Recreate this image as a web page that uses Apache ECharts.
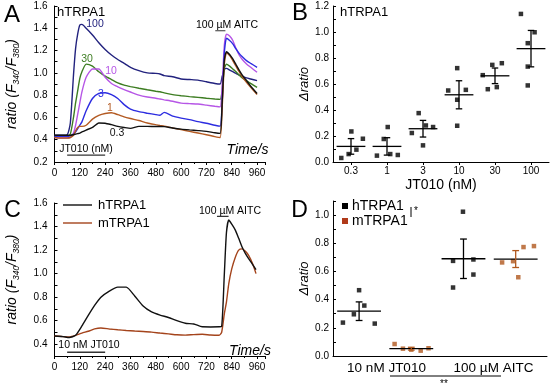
<!DOCTYPE html>
<html><head><meta charset="utf-8">
<script src="https://cdn.jsdelivr.net/npm/echarts@6/dist/echarts.min.js"></script>
<style>html,body{margin:0;padding:0;background:#fff}#c{width:550px;height:388px}</style>
</head><body><div id="c"></div>
<script>
const FONT = "'Liberation Sans', Arial, sans-serif";

// ---------- Panel A: hTRPA1 traces, JT010 concentrations ----------
const timeA = [0,30,60,75,90,100,110,120,130,150,180,210,240,270,300,330,360,400,440,480,500,520,560,600,640,680,720,760,785,795,805,815,830,845,860,875,890,910,930,960];
const a100 = [0.44,0.44,0.445,0.55,0.98,1.22,1.35,1.43,1.435,1.40,1.34,1.27,1.21,1.16,1.12,1.085,1.05,1.02,1.0,0.995,0.99,0.975,0.965,0.945,0.94,0.935,0.92,0.905,0.90,0.97,1.03,1.04,1.025,1.01,0.995,0.98,0.97,0.955,0.945,0.93];
const a30 = [0.43,0.43,0.435,0.45,0.6,0.73,0.84,0.95,1.01,1.078,1.06,1.01,0.97,0.94,0.91,0.89,0.877,0.862,0.848,0.835,0.83,0.82,0.805,0.795,0.787,0.78,0.772,0.765,0.762,0.85,1.04,1.078,1.06,1.035,1.01,0.98,0.955,0.93,0.905,0.87];
const a10 = [0.42,0.415,0.415,0.42,0.46,0.53,0.63,0.73,0.83,0.96,1.035,1.035,0.96,0.905,0.875,0.85,0.828,0.80,0.783,0.772,0.765,0.758,0.745,0.728,0.724,0.72,0.71,0.70,0.695,0.9,1.25,1.348,1.33,1.29,1.22,1.16,1.12,1.08,1.05,1.005];
const a3 = [0.43,0.43,0.43,0.435,0.45,0.47,0.5,0.53,0.56,0.66,0.77,0.815,0.822,0.805,0.77,0.715,0.675,0.652,0.638,0.625,0.62,0.645,0.612,0.594,0.58,0.562,0.548,0.53,0.522,0.75,1.18,1.31,1.29,1.26,1.215,1.175,1.145,1.11,1.085,1.05];
const a1 = [0.42,0.415,0.415,0.42,0.44,0.48,0.51,0.52,0.52,0.53,0.585,0.618,0.635,0.642,0.625,0.605,0.59,0.572,0.55,0.535,0.528,0.522,0.505,0.49,0.475,0.46,0.445,0.428,0.42,0.7,1.08,1.18,1.155,1.11,1.06,1.01,0.965,0.915,0.87,0.805];
const a03 = [0.44,0.44,0.44,0.44,0.445,0.45,0.455,0.46,0.47,0.487,0.51,0.55,0.548,0.535,0.52,0.51,0.502,0.52,0.52,0.518,0.518,0.517,0.505,0.495,0.488,0.482,0.475,0.462,0.457,0.75,1.12,1.19,1.165,1.125,1.075,1.025,0.98,0.93,0.88,0.815];
const traceNamesA = ['100','30','10','3','1','0.3'];
const traceColorsA = ['#22227e','#3d7d22','#b656e6','#2c2ce0','#b35a22','#111111'];

// ---------- Panel B: Δratio vs JT010 ----------
const catsB = ['0.3','1','3','10','30','100'];
const bVals = [[0.031,0.061,0.095,0.235,0.179],[0.049,0.177,0.269,0.061,0.054],[0.223,0.376,0.281,0.269,0.128],[0.55,0.555,0.722,0.479,0.279],[0.668,0.56,0.747,0.576,0.76],[1.139,0.998,0.914,0.734,0.589]];
const bJit = [[-0.27,-0.065,0.15,0.01,0.33],[-0.28,-0.09,0.02,0.09,0.30],[-0.31,-0.12,0.08,0.28,0.0],[-0.30,0.19,-0.05,-0.05,-0.05],[-0.34,-0.2,-0.075,0.05,0.19],[-0.28,0.1,-0.09,-0.09,-0.09]];
const bMean = [0.12,0.12,0.256,0.517,0.663,0.872];
const bSem = [0.06,0.067,0.064,0.108,0.06,0.14];

// ---------- Panel C: hTRPA1 vs mTRPA1 traces ----------
const timeC = [0,40,70,100,130,160,190,220,260,300,340,380,420,460,500,540,580,620,660,700,740,780,792,805,815,826,840,857,873,889,905,920,940,955];
const cH = [0.47,0.465,0.457,0.476,0.555,0.645,0.73,0.80,0.852,0.885,0.885,0.81,0.725,0.675,0.648,0.627,0.60,0.578,0.572,0.548,0.547,0.548,0.55,1.0,1.35,1.455,1.42,1.37,1.30,1.226,1.17,1.127,1.075,1.034];
const cM = [0.47,0.465,0.462,0.475,0.495,0.51,0.53,0.538,0.53,0.523,0.517,0.512,0.508,0.503,0.495,0.488,0.48,0.477,0.482,0.485,0.478,0.476,0.5,0.66,0.76,0.915,1.04,1.14,1.2,1.21,1.19,1.155,1.08,1.0];

// ---------- Panel D: Δratio, hTRPA1 vs mTRPA1 ----------
const catsD = ['10 nM JT010','100 \u00B5M AITC'];
const dPosH = [0.5, 2.5];
const dPosM = [1.5, 3.5];
const dValsH = [[0.237,0.296,0.467,0.358,0.23],[0.486,0.675,1.024,0.685,0.578]];
const dJitH = [[-0.31,-0.1,0,0.1,0.3],[-0.2,-0.2,-0.01,0.19,0.19]];
const dValsM = [[0.085,0.052,0.045,0.038,0.055],[0.664,0.673,0.559,0.773,0.78]];
const dJitM = [[-0.32,-0.16,0,0.18,0.33],[-0.26,-0.05,0.05,0.15,0.35]];
const dMeanH = [0.318,0.69], dSemH = [0.066,0.14];
const dMeanM = [0.052,0.688], dSemM = [0.01,0.06];

const BLACK = '#000';
const MCOL = '#b0581e';
const CBROWN = '#a4441c';

function meanErr(halfW, capW, meanColor, errColor){
  return function(params, api){
    const x = api.value(0), m = api.value(1), s = api.value(2);
    const l = api.coord([x-halfW, m]), r = api.coord([x+halfW, m]);
    const t = api.coord([x, m+s]), b = api.coord([x, m-s]);
    const tl = api.coord([x-capW, m+s]), tr = api.coord([x+capW, m+s]);
    const bl = api.coord([x-capW, m-s]), br = api.coord([x+capW, m-s]);
    const ln = (p,q,c)=>({type:'line', shape:{x1:p[0],y1:p[1],x2:q[0],y2:q[1]}, style:{stroke:c, lineWidth:1.3}});
    return {type:'group', children:[ln(l,r,meanColor), ln(t,b,errColor), ln(tl,tr,errColor), ln(bl,br,errColor)]};
  };
}

const axLine = {show:true, lineStyle:{color:BLACK, width:1}};
const tickLbl = {color:BLACK, fontSize:10, fontFamily:FONT};

function yAx(gi, min, max, interval, extra){
  return Object.assign({
    type:'value', gridIndex:gi, min, max, interval,
    axisLine:axLine, splitLine:{show:false},
    axisTick:{show:true, inside:true, length:3, lineStyle:{color:BLACK}},
    minorTick:{show:true, splitNumber:2, length:3, lineStyle:{color:BLACK}},
    axisLabel:Object.assign({margin:6, showMaxLabel:true}, tickLbl)
  }, extra||{});
}

const ratioName = '{i|ratio (F}{s|340}{i|/F}{s|380}{i|)}';
const ratioStyle = {rich:{
  i:{fontStyle:'italic', fontSize:14, fontFamily:FONT, color:BLACK, lineHeight:18},
  s:{fontStyle:'italic', fontSize:8.5, fontFamily:FONT, color:BLACK, verticalAlign:'bottom', lineHeight:10}
}};

const option = {
  animation:false,
  backgroundColor:'#fff',
  textStyle:{fontFamily:FONT},
  grid:[
    {left:54.5, top:6, width:211, height:156, outerBoundsMode:'none'},
    {left:333, top:6, width:216, height:156, outerBoundsMode:'none'},
    {left:54.5, top:203, width:211, height:153, outerBoundsMode:'none'},
    {left:333, top:201, width:214, height:155, outerBoundsMode:'none'}
  ],
  xAxis:[
    {type:'value', gridIndex:0, min:0, max:1000, interval:120, axisLine:axLine, splitLine:{show:false},
     axisTick:{show:true, length:3, lineStyle:{color:BLACK}}, minorTick:{show:true, splitNumber:2, length:2, lineStyle:{color:BLACK}},
     axisLabel:Object.assign({margin:6, showMaxLabel:false}, tickLbl)},
    {type:'value', gridIndex:1, min:0, max:6, interval:1, axisLine:axLine, splitLine:{show:false},
     axisTick:{show:false}, axisLabel:{show:false}},
    {type:'value', gridIndex:2, min:0, max:1000, interval:120, axisLine:axLine, splitLine:{show:false},
     axisTick:{show:true, length:3, lineStyle:{color:BLACK}}, minorTick:{show:true, splitNumber:2, length:2, lineStyle:{color:BLACK}},
     axisLabel:Object.assign({margin:6, showMaxLabel:false}, tickLbl)},
    {type:'value', gridIndex:3, min:0, max:4.1, interval:1, axisLine:axLine, splitLine:{show:false},
     axisTick:{show:false}, axisLabel:{show:false}},
    {type:'category', gridIndex:1, data:catsB, boundaryGap:true, position:'bottom',
     axisLine:{show:false}, axisTick:{show:true, alignWithLabel:true, length:3, lineStyle:{color:BLACK}},
     axisLabel:Object.assign({margin:4}, tickLbl),
     name:'JT010 (nM)', nameLocation:'middle', nameGap:16, nameTextStyle:{fontSize:14, fontFamily:FONT, color:BLACK}},
    {type:'category', gridIndex:3, data:catsD, boundaryGap:true, position:'bottom',
     axisLine:{show:false}, axisTick:{show:false},
     axisLabel:{margin:5, color:BLACK, fontSize:13.5, fontFamily:FONT}}
  ],
  yAxis:[
    yAx(0, 0.2, 1.6, 0.2, {axisLabel:Object.assign({margin:7, formatter:v=>v.toFixed(1)}, tickLbl),
      name:ratioName, nameLocation:'middle', nameRotate:90, nameGap:33, nameTextStyle:ratioStyle}),
    yAx(1, 0, 1.2, 0.2, {axisLabel:Object.assign({margin:4, formatter:v=>v.toFixed(1)}, tickLbl),
      name:'\u0394ratio', nameLocation:'middle', nameRotate:90, nameGap:19,
      nameTextStyle:{fontStyle:'italic', fontSize:13, fontFamily:FONT, color:BLACK}}),
    yAx(2, 0.3, 1.6, 0.1, {minorTick:{show:false},
      axisLabel:Object.assign({margin:7, formatter:v=>(Math.round(v*10)%2===0?v.toFixed(1):'')}, tickLbl),
      name:ratioName, nameLocation:'middle', nameRotate:90, nameGap:33, nameTextStyle:ratioStyle}),
    yAx(3, 0, 1.1, 0.2, {axisLabel:Object.assign({margin:4, showMaxLabel:false, formatter:v=>v.toFixed(1)}, tickLbl),
      name:'\u0394ratio', nameLocation:'middle', nameRotate:90, nameGap:19,
      nameTextStyle:{fontStyle:'italic', fontSize:13, fontFamily:FONT, color:BLACK}})
  ],
  series:[],
  graphic:[]
};

// Panel A traces
[a100,a30,a10,a3,a1,a03].forEach((arr,k)=>{
  option.series.push({type:'line', name:'A'+traceNamesA[k], xAxisIndex:0, yAxisIndex:0, showSymbol:false, smooth:0.2,
    data:timeA.map((t,i)=>[t,arr[i]]), lineStyle:{color:traceColorsA[k], width:1.4}, itemStyle:{color:traceColorsA[k]}, z:3+k});
});
// Application bars (A)
option.series.push({type:'line', xAxisIndex:0, yAxisIndex:0, showSymbol:false, data:[[60,0.262],[240,0.262]], lineStyle:{color:'#333', width:1.3}});
option.series.push({type:'line', xAxisIndex:0, yAxisIndex:0, showSymbol:false, data:[[762,1.378],[810,1.378]], lineStyle:{color:'#333', width:1.2}});

// Panel B
const bPts = [];
bVals.forEach((g,i)=>g.forEach((v,j)=>bPts.push([i+0.5+bJit[i][j], v])));
option.series.push({type:'scatter', xAxisIndex:1, yAxisIndex:1, symbol:'rect', symbolSize:4.5, itemStyle:{color:BLACK}, data:bPts});
option.series.push({type:'custom', xAxisIndex:1, yAxisIndex:1, renderItem:meanErr(0.4,0.09,BLACK,BLACK),
  data:bMean.map((m,i)=>[i+0.5, m, bSem[i]]), encode:{x:0,y:1}, z:5});

// Panel C traces
option.series.push({type:'line', name:'hTRPA1', xAxisIndex:2, yAxisIndex:2, showSymbol:false, smooth:0.2,
  data:timeC.map((t,i)=>[t,cH[i]]), lineStyle:{color:'#111', width:1.4}, itemStyle:{color:'#111'}, z:4});
option.series.push({type:'line', name:'mTRPA1', xAxisIndex:2, yAxisIndex:2, showSymbol:false, smooth:0.2,
  data:timeC.map((t,i)=>[t,cM[i]]), lineStyle:{color:CBROWN, width:1.4}, itemStyle:{color:CBROWN}, z:3});
option.series.push({type:'line', xAxisIndex:2, yAxisIndex:2, showSymbol:false, data:[[60,0.332],[240,0.332]], lineStyle:{color:'#333', width:1.3}});
option.series.push({type:'line', xAxisIndex:2, yAxisIndex:2, showSymbol:false, data:[[770,1.487],[825,1.487]], lineStyle:{color:'#333', width:1.2}});

// Panel D
const dH = [], dM = [];
dValsH.forEach((g,i)=>g.forEach((v,j)=>dH.push([dPosH[i]+dJitH[i][j], v])));
dValsM.forEach((g,i)=>g.forEach((v,j)=>dM.push([dPosM[i]+dJitM[i][j], v])));
option.series.push({type:'scatter', name:'hD', xAxisIndex:3, yAxisIndex:3, symbol:'rect', symbolSize:4.5, itemStyle:{color:BLACK}, data:dH});
option.series.push({type:'scatter', name:'mD', xAxisIndex:3, yAxisIndex:3, symbol:'rect', symbolSize:4.5, itemStyle:{color:MCOL}, data:dM});
option.series.push({type:'custom', xAxisIndex:3, yAxisIndex:3, renderItem:meanErr(0.42,0.065,BLACK,BLACK),
  data:dMeanH.map((m,i)=>[dPosH[i], m, dSemH[i]]), encode:{x:0,y:1}, z:5});
option.series.push({type:'custom', xAxisIndex:3, yAxisIndex:3, renderItem:meanErr(0.42,0.065,BLACK,MCOL),
  data:dMeanM.map((m,i)=>[dPosM[i], m, dSemM[i]]), encode:{x:0,y:1}, z:5});

// Text annotations and legends
function txt(x,y,s,size,extra){
  return {type:'text', x, y, z:100, style:Object.assign({text:s, fontSize:size, fontFamily:FONT, fill:BLACK, align:'center', verticalAlign:'middle'}, extra||{})};
}
function hline(x1,x2,y,c,w){ return {type:'line', z:100, shape:{x1,y1:y,x2,y2:y}, style:{stroke:c, lineWidth:w}}; }
option.graphic = [
  txt(12,15,'A',24), txt(300,13.5,'B',24), txt(12.5,210.5,'C',23), txt(299.5,210.5,'D',23),
  txt(57,12.5,'hTRPA1',13,{align:'left'}), txt(340,12.5,'hTRPA1',13,{align:'left'}),
  txt(95,24,'100',10.5,{fill:traceColorsA[0]}), txt(87,59,'30',10.5,{fill:traceColorsA[1]}),
  txt(111,71,'10',10.5,{fill:traceColorsA[2]}), txt(101,94,'3',10.5,{fill:traceColorsA[3]}),
  txt(110,108,'1',10.5,{fill:traceColorsA[4]}), txt(117,133,'0.3',10.5,{fill:traceColorsA[5]}),
  txt(86,149,'JT010 (nM)',10.5), txt(227,25,'100 \u00B5M AITC',10.5),
  txt(247.5,150,'Time/s',14,{fontStyle:'italic'}),
  txt(230,211,'100 \u00B5M AITC',10.5), txt(89,345.5,'10 nM JT010',10.5),
  txt(250,351,'Time/s',14,{fontStyle:'italic'}),
  // legend C
  hline(63,92,205,'#111',1.4), txt(98,205,'hTRPA1',13,{align:'left'}),
  hline(63,92,223,CBROWN,1.4), txt(98,223,'mTRPA1',13,{align:'left'}),
  // legend D
  {type:'rect', z:100, shape:{x:342,y:203,width:6,height:6}, style:{fill:BLACK}},
  txt(352,206,'hTRPA1',14,{align:'left'}),
  {type:'rect', z:100, shape:{x:342,y:218,width:6,height:6}, style:{fill:'#b03a1a'}},
  txt(352,221,'mTRPA1',14,{align:'left'}),
  {type:'line', z:100, shape:{x1:411,y1:207,x2:411,y2:217}, style:{stroke:BLACK, lineWidth:1}},
  txt(416,211,'*',10),
  hline(390,501,376,BLACK,1),
  txt(444,384,'**',10)
];

const chart = echarts.init(document.getElementById('c'), null, {renderer:'canvas', width:550, height:388});
chart.setOption(option);
</script></body></html>
